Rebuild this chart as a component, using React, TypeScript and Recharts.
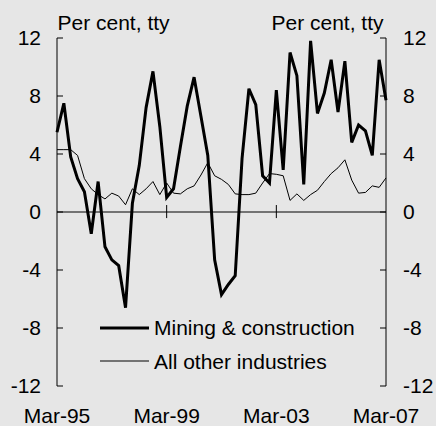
import React from 'react';
import { LineChart, Line, XAxis, YAxis, ReferenceLine, Legend } from 'recharts';

const quarters = [
  'Mar-95', 'Jun-95', 'Sep-95', 'Dec-95',
  'Mar-96', 'Jun-96', 'Sep-96', 'Dec-96',
  'Mar-97', 'Jun-97', 'Sep-97', 'Dec-97',
  'Mar-98', 'Jun-98', 'Sep-98', 'Dec-98',
  'Mar-99', 'Jun-99', 'Sep-99', 'Dec-99',
  'Mar-00', 'Jun-00', 'Sep-00', 'Dec-00',
  'Mar-01', 'Jun-01', 'Sep-01', 'Dec-01',
  'Mar-02', 'Jun-02', 'Sep-02', 'Dec-02',
  'Mar-03', 'Jun-03', 'Sep-03', 'Dec-03',
  'Mar-04', 'Jun-04', 'Sep-04', 'Dec-04',
  'Mar-05', 'Jun-05', 'Sep-05', 'Dec-05',
  'Mar-06', 'Jun-06', 'Sep-06', 'Dec-06',
  'Mar-07',
];

const mining = [
  5.5, 7.5, 3.8, 2.3, 1.4, -1.5, 2.1, -2.4, -3.3, -3.7, -6.6, 0.6,
  3.2, 7.2, 9.7, 5.9, 1.0, 1.6, 4.5, 7.3, 9.3, 6.6, 3.9, -3.3,
  -5.7, -5.0, -4.4, 3.7, 8.5, 7.4, 2.5, 2.0, 8.4, 2.9, 11.0, 9.4,
  1.9, 11.8, 6.8, 8.2, 10.5, 6.9, 10.4, 4.8, 6.0, 5.6, 3.9, 10.5,
  7.7,
];

const otherIndustries = [
  4.3, 4.3, 4.3, 3.9, 2.3, 1.6, 1.2, 0.9, 1.3, 1.1, 0.5, 1.6,
  1.2, 1.6, 2.1, 1.2, 2.0, 1.3, 1.25, 1.6, 1.8, 2.55, 3.4, 2.5,
  2.25, 1.9, 1.25, 1.2, 1.2, 1.3, 2.0, 2.65, 2.6, 2.5, 0.8, 1.25,
  0.8, 1.2, 1.5, 2.1, 2.65, 3.05, 3.6, 2.2, 1.3, 1.35, 1.8, 1.7,
  2.35,
];

const xTicks = ['Mar-95', 'Mar-99', 'Mar-03', 'Mar-07'];
const innerXTicks = ['Mar-99', 'Mar-03'];
const yTicks = [-12, -8, -4, 0, 4, 8, 12];
const unitLabel = 'Per cent, tty';
const seriesNames = { mining: 'Mining & construction', other: 'All other industries' };

const data = quarters.map((q, i) => ({ q, mining: mining[i], other: otherIndustries[i] }));

const FONT = '"Liberation Sans", Arial, sans-serif';
const BG = '#e6e6e6';

const LegendContent = () => (
  <div style={{ fontFamily: FONT, fontSize: 21, color: '#000' }}>
    {[
      { name: seriesNames.mining, w: 3 },
      { name: seriesNames.other, w: 1 },
    ].map((r) => (
      <div key={r.name} style={{ display: 'flex', alignItems: 'center', height: 33.5, lineHeight: '33.5px', whiteSpace: 'nowrap' }}>
        <svg width={49} height={6} style={{ marginRight: 5, display: 'block' }}>
          <line x1={0} y1={3} x2={49} y2={3} stroke="#000" strokeWidth={r.w} />
        </svg>
        <span>{r.name}</span>
      </div>
    ))}
  </div>
);

export default function App() {
  return (
    <div style={{ position: 'relative', width: 436, height: 426, background: BG, fontFamily: FONT }}>
      <style>{'body{margin:0}'}</style>
      <LineChart width={436} height={426} data={data} margin={{ top: 38, right: 0, bottom: 0, left: 0 }}>
        <XAxis
          dataKey="q"
          ticks={xTicks}
          interval={0}
          axisLine={false}
          tickLine={false}
          tickMargin={16}
          height={40}
          tick={{ fill: '#000', fontSize: 21, fontFamily: FONT }}
        />
        <YAxis
          yAxisId="left"
          orientation="left"
          width={57}
          domain={[-12, 12]}
          ticks={yTicks}
          interval={0}
          allowDataOverflow
          axisLine={{ stroke: '#000', strokeWidth: 1 }}
          tickLine={{ stroke: '#000', strokeWidth: 1 }}
          tickSize={-6}
          tickMargin={22}
          tick={{ fill: '#000', fontSize: 21, fontFamily: FONT }}
        />
        <YAxis
          yAxisId="right"
          orientation="right"
          width={50}
          domain={[-12, 12]}
          ticks={yTicks}
          interval={0}
          allowDataOverflow
          axisLine={{ stroke: '#000', strokeWidth: 1 }}
          tickLine={{ stroke: '#000', strokeWidth: 1 }}
          tickSize={-6}
          tickMargin={23}
          tick={{ fill: '#000', fontSize: 21, fontFamily: FONT }}
        />
        <ReferenceLine yAxisId="left" y={0} stroke="#000" strokeWidth={1} />
        {innerXTicks.map((t) => (
          <ReferenceLine
            key={t}
            yAxisId="left"
            segment={[{ x: t, y: -0.42 }, { x: t, y: 0.48 }]}
            stroke="#000"
            strokeWidth={1}
          />
        ))}
        <Line
          yAxisId="right"
          type="linear"
          dataKey="other"
          name={seriesNames.other}
          stroke="#000"
          strokeWidth={1}
          dot={false}
          isAnimationActive={false}
        />
        <Line
          yAxisId="left"
          type="linear"
          dataKey="mining"
          name={seriesNames.mining}
          stroke="#000"
          strokeWidth={3}
          dot={false}
          isAnimationActive={false}
        />
        <Legend
          layout="vertical"
          align="center"
          verticalAlign="middle"
          content={<LegendContent />}
          wrapperStyle={{ left: 100, top: 311, width: 'auto', height: 'auto' }}
        />
      </LineChart>
      <div style={{ position: 'absolute', left: 57.5, top: 11.7, fontSize: 21, lineHeight: '21px', color: '#000', whiteSpace: 'nowrap' }}>
        {unitLabel}
      </div>
      <div style={{ position: 'absolute', right: 52.5, top: 11.7, fontSize: 21, lineHeight: '21px', color: '#000', whiteSpace: 'nowrap', textAlign: 'right' }}>
        {unitLabel}
      </div>
    </div>
  );
}
